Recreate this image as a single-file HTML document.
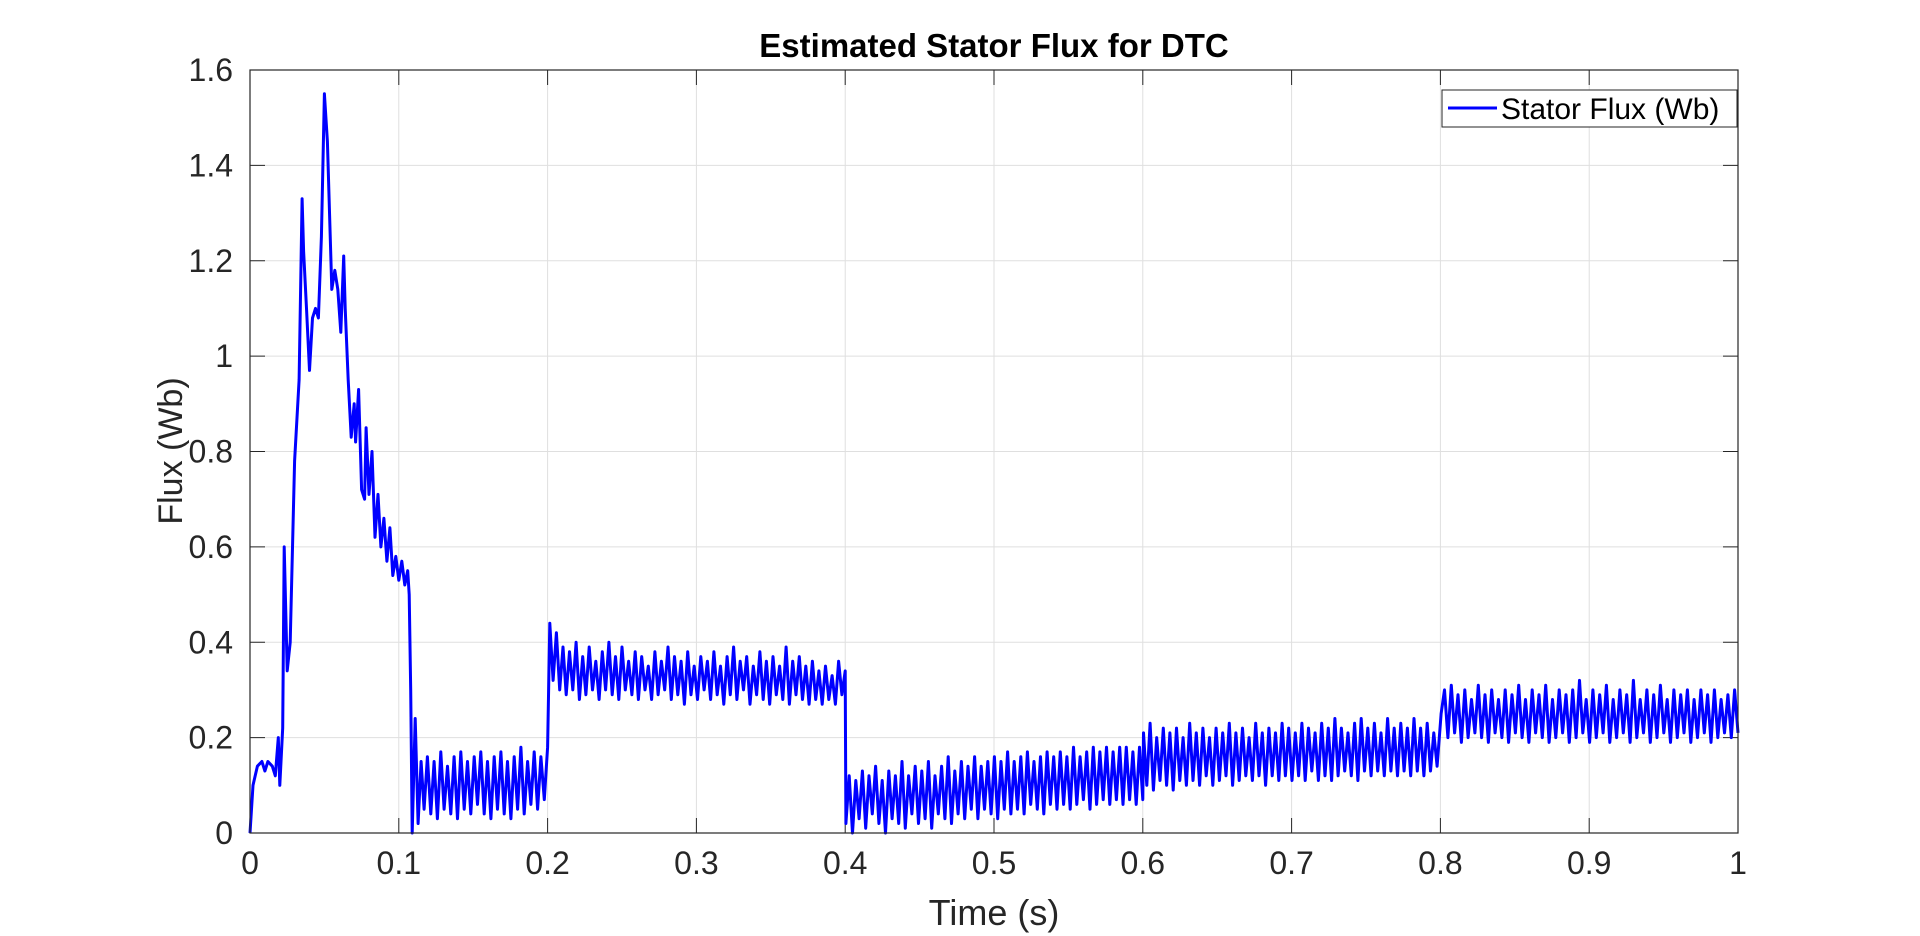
<!DOCTYPE html>
<html><head><meta charset="utf-8">
<style>
html,body{margin:0;padding:0;background:#fff;}
svg{display:block;font-family:"Liberation Sans",Arial,sans-serif;}
</style></head>
<body>
<svg id="chart" width="1920" height="936" viewBox="0 0 1920 936" xmlns="http://www.w3.org/2000/svg">
<rect x="0" y="0" width="1920" height="936" fill="#fff"/>
<g id="grid"></g>
<g id="ticks"></g>
<g id="series"></g>
<rect x="250" y="70" width="1488" height="763" fill="none" stroke="#262626" stroke-width="1.2"/>
<text x="994" y="57" text-anchor="middle" font-size="33" font-weight="bold" fill="#000">Estimated Stator Flux for DTC</text>
<text x="994" y="925" text-anchor="middle" font-size="36" fill="#262626">Time (s)</text>
<text transform="translate(182,451) rotate(-90)" text-anchor="middle" font-size="34" fill="#262626">Flux (Wb)</text>
<g>
<rect x="1442" y="90" width="295" height="37" fill="#fff" stroke="#262626" stroke-width="1"/>
<line x1="1448" y1="108" x2="1497" y2="108" stroke="#0000ff" stroke-width="3"/>
<text x="1501" y="119" font-size="30" fill="#000">Stator Flux (Wb)</text>
</g>
</svg>
<script>
// early transient
const earlyT=[0,0.002,0.005,0.008,0.01,0.012,0.015,0.017,0.019,0.02,0.022,0.023,0.025,0.027,0.03,0.033,0.035,0.036,0.038,0.04,0.042,0.044,0.046,0.048,0.05,0.052,0.055,0.057,0.059,0.061,0.063,0.064,0.066,0.068,0.07,0.071,0.073,0.075,0.077,0.078,0.08,0.082,0.084,0.086,0.088,0.09,0.092,0.094,0.096,0.098,0.1,0.102,0.104,0.106,0.107,0.108,0.109,0.111,0.113,0.115];
const earlyV=[0,0.1,0.14,0.15,0.13,0.15,0.14,0.12,0.2,0.1,0.22,0.6,0.34,0.4,0.78,0.95,1.33,1.22,1.1,0.97,1.08,1.1,1.08,1.25,1.55,1.45,1.14,1.18,1.14,1.05,1.21,1.1,0.95,0.83,0.9,0.82,0.93,0.72,0.7,0.85,0.71,0.8,0.62,0.71,0.6,0.66,0.57,0.64,0.54,0.58,0.53,0.57,0.52,0.55,0.5,0.3,0.0,0.24,0.02,0.15];
const seg1=[0.05,0.16,0.04,0.15,0.03,0.17,0.05,0.14,0.04,0.16,0.03,0.17,0.05,0.15,0.04,0.16,0.06,0.17,0.04,0.15,0.03,0.16,0.05,0.17,0.04,0.15,0.03,0.16,0.05,0.18,0.04,0.15,0.06,0.17,0.05,0.16,0.07,0.18];
const seg2=[0.44,0.32,0.42,0.3,0.39,0.29,0.38,0.3,0.4,0.28,0.37,0.29,0.39,0.3,0.36,0.28,0.38,0.3,0.4,0.29,0.37,0.28,0.39,0.3,0.36,0.29,0.38,0.28,0.37,0.3,0.35,0.28,0.38,0.29,0.36,0.3,0.39,0.28,0.37,0.29,0.36,0.27,0.38,0.29,0.35,0.28,0.37,0.3,0.36,0.28,0.38,0.29,0.35,0.27,0.37,0.29,0.39,0.28,0.36,0.3,0.37,0.27,0.35,0.29,0.38,0.28,0.36,0.27,0.37,0.29,0.35,0.28,0.39,0.27,0.36,0.29,0.37,0.28,0.35,0.27,0.36,0.28,0.34,0.27,0.35,0.28,0.33,0.27,0.36,0.29,0.34];
const seg3=[0.02,0.12,0.0,0.11,0.03,0.13,0.01,0.12,0.04,0.14,0.02,0.11,0.0,0.13,0.03,0.12,0.02,0.15,0.01,0.12,0.04,0.14,0.02,0.13,0.03,0.15,0.01,0.12,0.04,0.14,0.03,0.16,0.02,0.13,0.04,0.15,0.03,0.14,0.05,0.16,0.03,0.14,0.05,0.15,0.04,0.16,0.03,0.15,0.05,0.17,0.04,0.15,0.05,0.16,0.04,0.17,0.06,0.15,0.05,0.16,0.04,0.17,0.06,0.16,0.05,0.17,0.06,0.16,0.05,0.18,0.06,0.16,0.07,0.17,0.05,0.18,0.06,0.17,0.07,0.18,0.06,0.17,0.07,0.18,0.06,0.18,0.07,0.17,0.06,0.18,0.07];
const seg4=[0.21,0.1,0.23,0.09,0.2,0.11,0.22,0.1,0.21,0.09,0.22,0.11,0.2,0.1,0.23,0.11,0.21,0.1,0.22,0.12,0.2,0.1,0.22,0.11,0.21,0.12,0.23,0.1,0.21,0.11,0.22,0.12,0.2,0.11,0.23,0.12,0.21,0.1,0.22,0.12,0.21,0.11,0.23,0.12,0.22,0.11,0.21,0.12,0.23,0.11,0.22,0.13,0.21,0.11,0.23,0.12,0.22,0.11,0.24,0.12,0.22,0.13,0.21,0.12,0.23,0.11,0.24,0.13,0.22,0.12,0.23,0.13,0.21,0.12,0.24,0.13,0.22,0.12,0.23,0.13,0.22,0.12,0.24,0.13,0.22,0.12,0.23,0.13,0.21,0.14,0.23];
const seg5=[0.25,0.3,0.2,0.31,0.21,0.29,0.19,0.3,0.2,0.28,0.21,0.31,0.2,0.29,0.19,0.3,0.21,0.28,0.2,0.3,0.19,0.29,0.21,0.31,0.2,0.28,0.19,0.3,0.21,0.29,0.2,0.31,0.19,0.28,0.2,0.3,0.21,0.29,0.19,0.3,0.2,0.32,0.21,0.28,0.19,0.3,0.2,0.29,0.21,0.31,0.19,0.28,0.2,0.3,0.21,0.29,0.19,0.32,0.2,0.28,0.21,0.3,0.19,0.29,0.2,0.31,0.21,0.28,0.19,0.3,0.2,0.29,0.21,0.3,0.19,0.28,0.2,0.3,0.21,0.29,0.19,0.3,0.2,0.28,0.21,0.29,0.2,0.3,0.21];
const segStarts=[0.117,0.2015,0.4005,0.6005,0.8005];
const segEnds=[0.2,0.4,0.6,0.8,1.0];
const xTicks=[0,0.1,0.2,0.3,0.4,0.5,0.6,0.7,0.8,0.9,1];
const xTickLabels=["0","0.1","0.2","0.3","0.4","0.5","0.6","0.7","0.8","0.9","1"];
const yTicks=[0,0.2,0.4,0.6,0.8,1,1.2,1.4,1.6];
const yTickLabels=["0","0.2","0.4","0.6","0.8","1","1.2","1.4","1.6"];

const X0=250,X1=1738,Y0=833,Y1=70;
function sx(t){return X0+(t-0)/(1-0)*(X1-X0);}
function sy(v){return Y0-(v-0)/(1.6-0)*(Y0-Y1);}
const NS='http://www.w3.org/2000/svg';
function mk(tag,attrs,parent){const e=document.createElementNS(NS,tag);for(const k in attrs)e.setAttribute(k,attrs[k]);parent.appendChild(e);return e;}
const grid=document.getElementById('grid'),ticks=document.getElementById('ticks'),series=document.getElementById('series');
xTicks.forEach((t,i)=>{
  const g=mk('line',{x1:sx(t),x2:sx(t),y1:Y1,y2:Y0,stroke:'#dfdfdf','stroke-width':1},grid);
  
  
  const tk=mk('line',{x1:sx(t),x2:sx(t),y1:Y0,y2:Y0-15,stroke:'#262626','stroke-width':1},ticks);
  
  
  const tk2=mk('line',{x1:sx(t),x2:sx(t),y1:Y1,y2:Y1+15,stroke:'#262626','stroke-width':1},ticks);
  
  
  const l=mk('text',{x:sx(t),y:Y0+41,'text-anchor':'middle','font-size':32,fill:'#262626'},ticks);
  l.textContent=xTickLabels[i];
  
  
});
yTicks.forEach((v,i)=>{
  const g=mk('line',{x1:X0,x2:X1,y1:sy(v),y2:sy(v),stroke:'#dfdfdf','stroke-width':1},grid);
  
  
  const tk=mk('line',{x1:X0,x2:X0+15,y1:sy(v),y2:sy(v),stroke:'#262626','stroke-width':1},ticks);
  
  
  const tk2=mk('line',{x1:X1,x2:X1-15,y1:sy(v),y2:sy(v),stroke:'#262626','stroke-width':1},ticks);
  
  
  const l=mk('text',{x:X0-17,y:sy(v)+11,'text-anchor':'end','font-size':32,fill:'#262626'},ticks);
  l.textContent=yTickLabels[i];
  
  
});
const pts=[];
earlyT.forEach((t,i)=>pts.push([t,earlyV[i]]));
[seg1,seg2,seg3,seg4,seg5].forEach((s,k)=>{
  const a=segStarts[k],b=segEnds[k];
  s.forEach((v,i)=>{pts.push([a+(b-a)*i/(s.length-1),v]);});
});
const d=pts.map((p,i)=>(i?'L':'M')+sx(p[0]).toFixed(1)+' '+sy(p[1]).toFixed(1)).join(' ');
const path=mk('path',{d:d,fill:'none',stroke:'#0000ff','stroke-width':3,'stroke-linejoin':'round'},series);


</script>
</body></html>
